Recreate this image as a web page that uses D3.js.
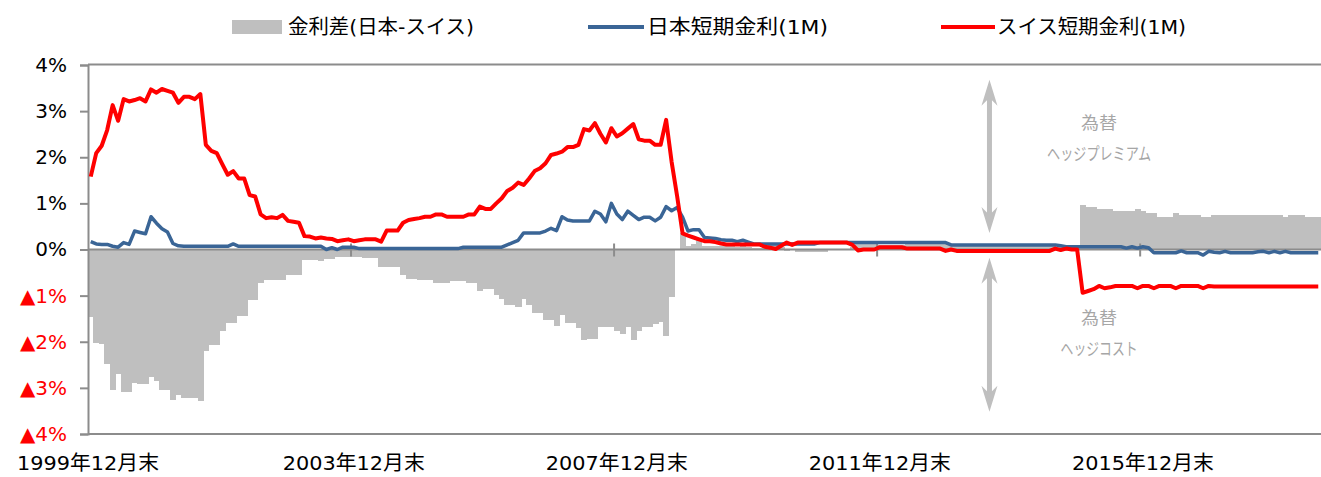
<!DOCTYPE html>
<html>
<head>
<meta charset="utf-8">
<script src="https://cdn.jsdelivr.net/npm/d3@7"></script>
<style>
  body { margin: 0; background: #fff; }
  svg text { font-family: "DejaVu Sans", "Noto Sans CJK JP", sans-serif; }
</style>
</head>
<body>
<script>
// Screen dimensions.
const WIDTH = 1321;
const HEIGHT = 477;
const margin = {top: 65, right: 0, bottom: 43, left: 88};

// Monthly data, from 1999年12月末 (one value per month).
const startMonth = new Date(1999, 11, 1);

// スイス短期金利(1M), %
const swissRate = [
  1.58, 2.09, 2.25, 2.59, 3.13, 2.79, 3.26, 3.21, 3.24, 3.28, 3.21, 3.47,
  3.40, 3.48, 3.44, 3.40, 3.18, 3.31, 3.31, 3.26, 3.37, 2.27, 2.14, 2.09,
  1.85, 1.62, 1.70, 1.54, 1.54, 1.18, 1.15, 0.76, 0.68, 0.70, 0.68, 0.75,
  0.62, 0.60, 0.58, 0.29, 0.28, 0.24, 0.26, 0.24, 0.23, 0.18, 0.20, 0.22,
  0.18, 0.20, 0.22, 0.22, 0.22, 0.17, 0.41, 0.41, 0.41, 0.58, 0.64, 0.66,
  0.68, 0.71, 0.71, 0.76, 0.76, 0.71, 0.71, 0.71, 0.71, 0.76, 0.76, 0.93,
  0.88, 0.88, 1.00, 1.11, 1.27, 1.34, 1.45, 1.40, 1.54, 1.70, 1.76, 1.87,
  2.05, 2.08, 2.12, 2.22, 2.22, 2.27, 2.61, 2.58, 2.74, 2.51, 2.32, 2.63,
  2.45, 2.52, 2.62, 2.72, 2.39, 2.36, 2.36, 2.27, 2.27, 2.81, 1.90, 1.16,
  0.35, 0.30, 0.26, 0.22, 0.18, 0.18, 0.16, 0.13, 0.11, 0.11, 0.11, 0.11,
  0.11, 0.11, 0.11, 0.06, 0.04, 0.01, 0.08, 0.15, 0.10, 0.15, 0.15, 0.15,
  0.15, 0.15, 0.15, 0.15, 0.15, 0.15, 0.15, 0.10, -0.02, 0.00, 0.00, 0.00,
  0.05, 0.05, 0.05, 0.05, 0.05, 0.02, 0.02, 0.02, 0.02, 0.02, 0.02, 0.02,
  -0.03, 0.00, -0.03, -0.03, -0.03, -0.03, -0.03, -0.03, -0.03, -0.03, -0.03, -0.03,
  -0.03, -0.03, -0.03, -0.03, -0.03, -0.03, -0.03, -0.03, 0.02, -0.01, 0.02, 0.00,
  0.00, -0.94, -0.90, -0.86, -0.79, -0.84, -0.82, -0.79, -0.79, -0.79, -0.79, -0.84,
  -0.79, -0.79, -0.84, -0.79, -0.79, -0.79, -0.84, -0.79, -0.79, -0.79, -0.79, -0.84,
  -0.79, -0.80, -0.80, -0.80, -0.80, -0.80, -0.80, -0.80, -0.80, -0.80, -0.80, -0.80,
  -0.80, -0.80, -0.80, -0.80, -0.80, -0.80, -0.80, -0.80, -0.80
];

// 日本短期金利(1M), %
const japanRate = [
  0.17, 0.12, 0.11, 0.11, 0.07, 0.05, 0.15, 0.11, 0.40, 0.37, 0.34, 0.71,
  0.57, 0.45, 0.38, 0.13, 0.08, 0.07, 0.07, 0.07, 0.07, 0.07, 0.07, 0.07,
  0.07, 0.07, 0.12, 0.07, 0.07, 0.07, 0.07, 0.07, 0.07, 0.07, 0.07, 0.07,
  0.07, 0.07, 0.07, 0.07, 0.07, 0.07, 0.07, 0.00, 0.04, 0.00, 0.05, 0.05,
  0.05, 0.02, 0.02, 0.02, 0.02, 0.02, 0.02, 0.02, 0.02, 0.02, 0.02, 0.02,
  0.02, 0.02, 0.02, 0.02, 0.02, 0.02, 0.02, 0.02, 0.05, 0.05, 0.05, 0.05,
  0.05, 0.05, 0.05, 0.05, 0.10, 0.15, 0.20, 0.36, 0.36, 0.36, 0.36, 0.40,
  0.46, 0.41, 0.71, 0.64, 0.62, 0.62, 0.62, 0.62, 0.83, 0.77, 0.60, 1.00,
  0.77, 0.65, 0.83, 0.74, 0.65, 0.70, 0.70, 0.62, 0.70, 0.93, 0.84, 0.91,
  0.70, 0.40, 0.43, 0.43, 0.26, 0.25, 0.24, 0.21, 0.20, 0.20, 0.17, 0.20,
  0.16, 0.12, 0.12, 0.12, 0.12, 0.12, 0.12, 0.12, 0.12, 0.12, 0.12, 0.12,
  0.12, 0.15, 0.15, 0.15, 0.15, 0.15, 0.15, 0.15, 0.15, 0.15, 0.15, 0.15,
  0.15, 0.15, 0.15, 0.15, 0.15, 0.15, 0.15, 0.15, 0.15, 0.15, 0.15, 0.15,
  0.15, 0.10, 0.10, 0.10, 0.10, 0.10, 0.10, 0.10, 0.10, 0.10, 0.10, 0.10,
  0.10, 0.10, 0.10, 0.10, 0.10, 0.10, 0.10, 0.10, 0.10, 0.08, 0.06, 0.06,
  0.06, 0.06, 0.06, 0.06, 0.06, 0.06, 0.06, 0.06, 0.06, 0.03, 0.06, 0.03,
  0.06, 0.04, -0.07, -0.07, -0.07, -0.07, -0.07, -0.03, -0.07, -0.07, -0.07, -0.12,
  -0.04, -0.06, -0.07, -0.04, -0.07, -0.07, -0.07, -0.07, -0.07, -0.05, -0.04, -0.07,
  -0.04, -0.07, -0.04, -0.07, -0.07, -0.07, -0.07, -0.07, -0.07
];

// 金利差(日本-スイス), %
const spread = [
  -1.46, -2.02, -2.04, -2.48, -3.05, -2.71, -3.10, -3.10, -2.89, -2.92, -2.92, -2.76,
  -2.85, -3.05, -3.05, -3.26, -3.15, -3.23, -3.23, -3.23, -3.29, -2.19, -2.07, -2.07,
  -1.76, -1.60, -1.60, -1.44, -1.44, -1.10, -1.10, -0.72, -0.66, -0.66, -0.66, -0.66,
  -0.55, -0.55, -0.55, -0.23, -0.23, -0.23, -0.24, -0.20, -0.20, -0.16, -0.16, -0.17,
  -0.17, -0.17, -0.18, -0.18, -0.18, -0.37, -0.37, -0.37, -0.37, -0.55, -0.64, -0.64,
  -0.66, -0.66, -0.66, -0.72, -0.72, -0.72, -0.68, -0.69, -0.68, -0.73, -0.73, -0.89,
  -0.86, -0.86, -0.99, -1.08, -1.20, -1.20, -1.24, -1.08, -1.20, -1.37, -1.37, -1.53,
  -1.53, -1.66, -1.42, -1.60, -1.60, -1.71, -1.96, -1.93, -1.93, -1.67, -1.67, -1.67,
  -1.76, -1.83, -1.67, -1.96, -1.76, -1.67, -1.67, -1.62, -1.58, -1.88, -1.02, -0.02,
  0.36, 0.08, 0.13, 0.20, 0.07, 0.07, 0.08, 0.08, 0.09, 0.09, 0.06, 0.09,
  0.05, 0.03, 0.03, 0.07, 0.09, 0.12, 0.05, -0.03, 0.02, -0.06, -0.06, -0.06,
  -0.06, -0.06, -0.06, 0.00, 0.00, 0.00, 0.00, 0.05, 0.16, 0.15, 0.15, 0.15,
  0.10, 0.10, 0.10, 0.10, 0.10, 0.13, 0.13, 0.13, 0.13, 0.13, 0.13, 0.13,
  0.16, 0.10, 0.13, 0.13, 0.13, 0.13, 0.13, 0.13, 0.13, 0.13, 0.13, 0.13,
  0.13, 0.13, 0.13, 0.13, 0.13, 0.13, 0.13, 0.13, 0.08, 0.09, 0.04, 0.06,
  0.06, 0.97, 0.92, 0.92, 0.87, 0.87, 0.87, 0.84, 0.84, 0.84, 0.84, 0.87,
  0.84, 0.79, 0.79, 0.70, 0.70, 0.70, 0.79, 0.75, 0.75, 0.75, 0.75, 0.70,
  0.70, 0.75, 0.75, 0.75, 0.75, 0.75, 0.75, 0.75, 0.75, 0.75, 0.75, 0.75,
  0.75, 0.75, 0.71, 0.75, 0.75, 0.75, 0.70, 0.70, 0.70
];

// Axis labels.
const yTicks = [4, 3, 2, 1, 0, -1, -2, -3, -4];
const xTickMonths = ["1999-12", "2003-12", "2007-12", "2011-12", "2015-12"];
const xTickLabels = ["1999年12月末", "2003年12月末", "2007年12月末", "2011年12月末", "2015年12月末"];
const legendLabels = ["金利差(日本-スイス)", "日本短期金利(1M)", "スイス短期金利(1M)"];

// Colors.
const BAR_COLOR = "#bfbfbf";
const JP_COLOR = "#3a6596";
const CH_COLOR = "#ff0000";
const AXIS_COLOR = "#8c8c8c";
const NOTE_COLOR = "#a6a6a6";

const fmt = d3.timeFormat("%Y-%m");
const months = d3.timeMonth.range(startMonth, d3.timeMonth.offset(startMonth, spread.length)).map(fmt);

// SVG
const svg = d3.select("body").append("svg").attr("width", WIDTH).attr("height", HEIGHT);

// Scales
const x = d3.scaleBand().domain(months).range([margin.left, WIDTH - margin.right]).padding(0);
const y = d3.scaleLinear().domain([-4, 4]).range([HEIGHT - margin.bottom, margin.top]);
const bw = x.bandwidth();

svg.append("clipPath").attr("id", "plot-clip")
  .append("rect")
  .attr("x", margin.left).attr("y", margin.top - 5)
  .attr("width", WIDTH - margin.left).attr("height", HEIGHT - margin.top - margin.bottom + 10);

// Spread bars
svg.append("g").attr("clip-path", "url(#plot-clip)")
  .selectAll("rect").data(spread).enter().append("rect")
  .attr("x", (d, i) => x(months[i]))
  .attr("width", bw + 0.6)
  .attr("y", d => y(Math.max(0, d)))
  .attr("height", d => Math.abs(y(d) - y(0)))
  .attr("fill", BAR_COLOR)
  .attr("shape-rendering", "crispEdges");

// Frame: top and bottom border, left axis
svg.append("line")
  .attr("x1", margin.left).attr("x2", WIDTH)
  .attr("y1", y(4) - 0.5).attr("y2", y(4) - 0.5)
  .attr("stroke", AXIS_COLOR).attr("stroke-width", 2);
svg.append("line")
  .attr("x1", margin.left).attr("x2", WIDTH)
  .attr("y1", y(-4)).attr("y2", y(-4))
  .attr("stroke", AXIS_COLOR).attr("stroke-width", 2);

const yAxis = svg.append("g")
  .attr("transform", `translate(${margin.left},0)`)
  .call(d3.axisLeft(y).tickValues(yTicks).tickSize(8).tickPadding(13)
    .tickFormat(d => (d < 0 ? "▲" + Math.abs(d) : d) + "%"));
yAxis.select(".domain").attr("stroke", AXIS_COLOR).attr("stroke-width", 2);
yAxis.selectAll(".tick line").attr("stroke", AXIS_COLOR).attr("stroke-width", 2);
yAxis.selectAll(".tick text")
  .attr("font-size", 20)
  .attr("fill", d => d < 0 ? "#ff0000" : "#000");

// Zero line with year ticks
svg.append("line")
  .attr("x1", margin.left).attr("x2", WIDTH)
  .attr("y1", y(0)).attr("y2", y(0))
  .attr("stroke", AXIS_COLOR).attr("stroke-width", 2);
svg.append("g").selectAll("line").data(xTickMonths.slice(1)).enter().append("line")
  .attr("x1", d => x(d)).attr("x2", d => x(d))
  .attr("y1", y(0) - 6).attr("y2", y(0) + 7)
  .attr("stroke", AXIS_COLOR).attr("stroke-width", 2);

// X labels
svg.append("g").selectAll("text").data(xTickMonths).enter().append("text")
  .attr("x", (d, i) => i === 0 ? margin.left : x(d) + bw / 2)
  .attr("y", HEIGHT - 7)
  .attr("text-anchor", "middle")
  .attr("font-size", 20)
  .attr("fill", "#000")
  .attr("textLength", 142)
  .attr("lengthAdjust", "spacingAndGlyphs")
  .text((d, i) => xTickLabels[i]);

// Lines
const line = d3.line()
  .x((d, i) => x(months[i]) + bw / 2)
  .y(d => y(d));

const lines = svg.append("g").attr("clip-path", "url(#plot-clip)");
lines.append("path").datum(japanRate)
  .attr("d", line).attr("fill", "none")
  .attr("stroke", JP_COLOR).attr("stroke-width", 3.5).attr("stroke-linejoin", "round");
lines.append("path").datum(swissRate)
  .attr("d", line).attr("fill", "none")
  .attr("stroke", CH_COLOR).attr("stroke-width", 4).attr("stroke-linejoin", "round");

// Double arrows and notes
function arrowHead(g, xPos, tipY, dir) {
  // dir = 1 points up, -1 points down
  const p = [[0, 0], [-8, 26], [0, 18], [8, 26]]
    .map(([dx, dy]) => [xPos + dx, tipY + dy * dir]);
  g.append("path").attr("d", "M" + p.join("L") + "Z").attr("fill", BAR_COLOR);
}
function doubleArrow(xPos, yTop, yBottom) {
  const g = svg.append("g");
  g.append("line")
    .attr("x1", xPos).attr("x2", xPos)
    .attr("y1", yTop + 16).attr("y2", yBottom - 16)
    .attr("stroke", BAR_COLOR).attr("stroke-width", 5);
  arrowHead(g, xPos, yTop, 1);
  arrowHead(g, xPos, yBottom, -1);
}
const arrowX = x("2013-08") + bw / 2;
doubleArrow(arrowX, y(3.68), y(0.36));
doubleArrow(arrowX, y(-0.18), y(-3.52));

const noteX = x("2015-04") + bw / 2;
const notes = [
  {text: "為替", v: 2.74, len: 36},
  {text: "ヘッジプレミアム", v: 2.08, len: 104},
  {text: "為替", v: -1.49, len: 36},
  {text: "ヘッジコスト", v: -2.16, len: 77}
];
svg.append("g").selectAll("text").data(notes).enter().append("text")
  .attr("x", noteX)
  .attr("y", d => y(d.v))
  .attr("dy", "0.35em")
  .attr("text-anchor", "middle")
  .attr("font-size", 17)
  .attr("fill", NOTE_COLOR)
  .attr("textLength", d => d.len)
  .attr("lengthAdjust", "spacingAndGlyphs")
  .text(d => d.text);

// Legend
const legend = svg.append("g").attr("class", "legend");
const legendY = 27;
legend.append("rect")
  .attr("x", 232).attr("y", legendY - 7).attr("width", 50).attr("height", 14)
  .attr("fill", BAR_COLOR);
legend.append("line")
  .attr("x1", 588).attr("x2", 644).attr("y1", legendY).attr("y2", legendY)
  .attr("stroke", JP_COLOR).attr("stroke-width", 4);
legend.append("line")
  .attr("x1", 941).attr("x2", 995).attr("y1", legendY).attr("y2", legendY)
  .attr("stroke", CH_COLOR).attr("stroke-width", 4);
const legendText = [
  {x: 288, len: 186},
  {x: 647, len: 181},
  {x: 997, len: 189}
];
legend.selectAll("text").data(legendText).enter().append("text")
  .attr("x", d => d.x)
  .attr("y", legendY)
  .attr("dy", "0.35em")
  .attr("font-size", 20)
  .attr("fill", "#000")
  .attr("textLength", d => d.len)
  .attr("lengthAdjust", "spacingAndGlyphs")
  .text((d, i) => legendLabels[i]);
</script>
</body>
</html>
